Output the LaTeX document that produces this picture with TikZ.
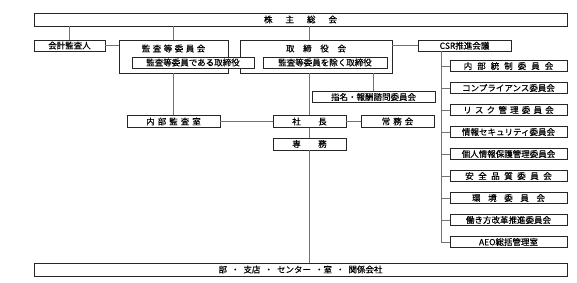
\documentclass[tikz,border=0pt]{standalone}
\usepackage{fontspec}
\setmainfont{Noto Sans CJK JP}[FakeBold=0.35]
\usetikzlibrary{shadows}
\newcommand\gp[1]{\hspace{#1pt}}
\tikzset{
  box/.style={draw=black!85, line width=0.7pt, fill=white, rectangle, inner sep=0pt,
    font=\fontsize{8.5}{9}\selectfont, text=black,
    drop shadow={shadow xshift=0.8pt, shadow yshift=-0.8pt, fill=black!40, opacity=1}},
  outerbox/.style={draw=black!85, line width=0.7pt, fill=white, rectangle, inner sep=0pt},
  lbl/.style={font=\fontsize{8.5}{9}\selectfont, inner sep=0pt, text=black},
  conn/.style={draw=black!55, line width=0.8pt},
  rbox/.style={box, minimum width=117pt, minimum height=11pt}
}
\begin{document}
\begin{tikzpicture}[x=1pt,y=-1pt]
\useasboundingbox (0,0) rectangle (577,283);
% outer boxes
\node[outerbox, minimum width=109pt, minimum height=33pt] (kansa) at (173.5,56.5) {};
\node[outerbox, minimum width=152pt, minimum height=33pt] (tori) at (316,56.5) {};
\node[lbl] (kansalbl) at (173.5,48.5) {監\gp{2.5}査\gp{2.5}等\gp{2.5}委\gp{2.5}員\gp{2.5}会};
\node[lbl] (torilbl) at (316,48.5) {取\gp{8.7}締\gp{8.7}役\gp{8.7}会};
% inner boxes
\node[box, minimum width=122pt, minimum height=11pt] (kin) at (193,62.5) {監査等委員である取締役};
\node[box, minimum width=124pt, minimum height=11pt] (tin) at (325,62.5) {監査等委員を除く取締役};
% main boxes
\node[box, minimum width=533pt, minimum height=13pt] (top) at (300.5,19.5) {株\gp{13}主\gp{13}総\gp{13}会};
\node[box, minimum width=71pt, minimum height=11pt] (kaikei) at (69.5,45.5) {会計監査人};
\node[box, minimum width=93pt, minimum height=11.5pt] (csr) at (464.5,45.7) {CSR推進会議};
\node[box, minimum width=123pt, minimum height=11pt] (shimei) at (373.5,97) {指名・報酬諮問委員会};
\node[box, minimum width=93pt, minimum height=12pt] (naibu) at (173.5,121.5) {内\gp{3}部\gp{3}監\gp{3}査\gp{3}室};
\node[box, minimum width=73pt, minimum height=12pt] (shacho) at (309.5,121.5) {社\gp{17.5}長};
\node[box, minimum width=73pt, minimum height=12pt] (jomu) at (397.5,121.5) {常\gp{3}務\gp{3}会};
\node[box, minimum width=73pt, minimum height=12pt] (senmu) at (309.5,144) {専\gp{17.5}務};
\node[box, minimum width=533pt, minimum height=13pt] (bottom) at (300.5,269.5) {部\gp{4}・\gp{4}支店\gp{4}・\gp{4}センター\gp{4}・室\gp{4}・\gp{4}関係会社};
% right column
\node[rbox] (r1) at (508.5,66) {内\gp{5}部\gp{5}統\gp{5}制\gp{5}委\gp{5}員\gp{5}会};
\node[rbox] (r2) at (508.5,88) {コンプライアンス委員会};
\node[rbox] (r3) at (508.5,110) {リ\gp{3.2}ス\gp{3.2}ク\gp{3.2}管\gp{3.2}理\gp{3.2}委\gp{3.2}員\gp{3.2}会};
\node[rbox] (r4) at (508.5,132) {情報セキュリティ委員会};
\node[rbox] (r5) at (508.5,154) {個人情報保護管理委員会};
\node[rbox] (r6) at (508.5,176) {安\gp{4.5}全\gp{4.5}品\gp{4.5}質\gp{4.5}委\gp{4.5}員\gp{4.5}会};
\node[rbox] (r7) at (508.5,198) {環\gp{7.6}境\gp{7.6}委\gp{7.6}員\gp{7.6}会};
\node[rbox] (r8) at (508.5,220) {働き方改革推進委員会};
\node[rbox] (r9) at (508.5,242) {AEO総括管理室};
% connectors
\coordinate (cs) at (441,51.45);
\draw[conn] (kaikei.north) -- (kaikei.north |- top.south);
\draw[conn] (kansa.north) -- (kansa.north |- top.south);
\draw[conn] (shacho.north |- top.south) -- (shacho.north |- tori.north);
\draw[conn] (kaikei.east) -- (kaikei.east -| kansa.west);
\draw[conn] (tori.east |- csr.west) -- (csr.west);
\draw[conn] (naibu.north |- kansa.south) -- (naibu.north);
\draw[conn] (shimei.north |- tori.south) -- (shimei.north);
\draw[conn] (shacho.north |- tori.south) -- (shacho.north);
\draw[conn] (shacho.south) -- (senmu.north);
\draw[conn] (senmu.south) -- (senmu.south |- bottom.north);
\draw[conn] (naibu.east) -- (shacho.west);
\draw[conn] (shacho.east) -- (jomu.west);
\draw[conn] (cs) |- (r9.west);
\foreach \r in {r1,r2,r3,r4,r5,r6,r7,r8} {
  \draw[conn] (cs |- \r.west) -- (\r.west);
}
\end{tikzpicture}
\end{document}
